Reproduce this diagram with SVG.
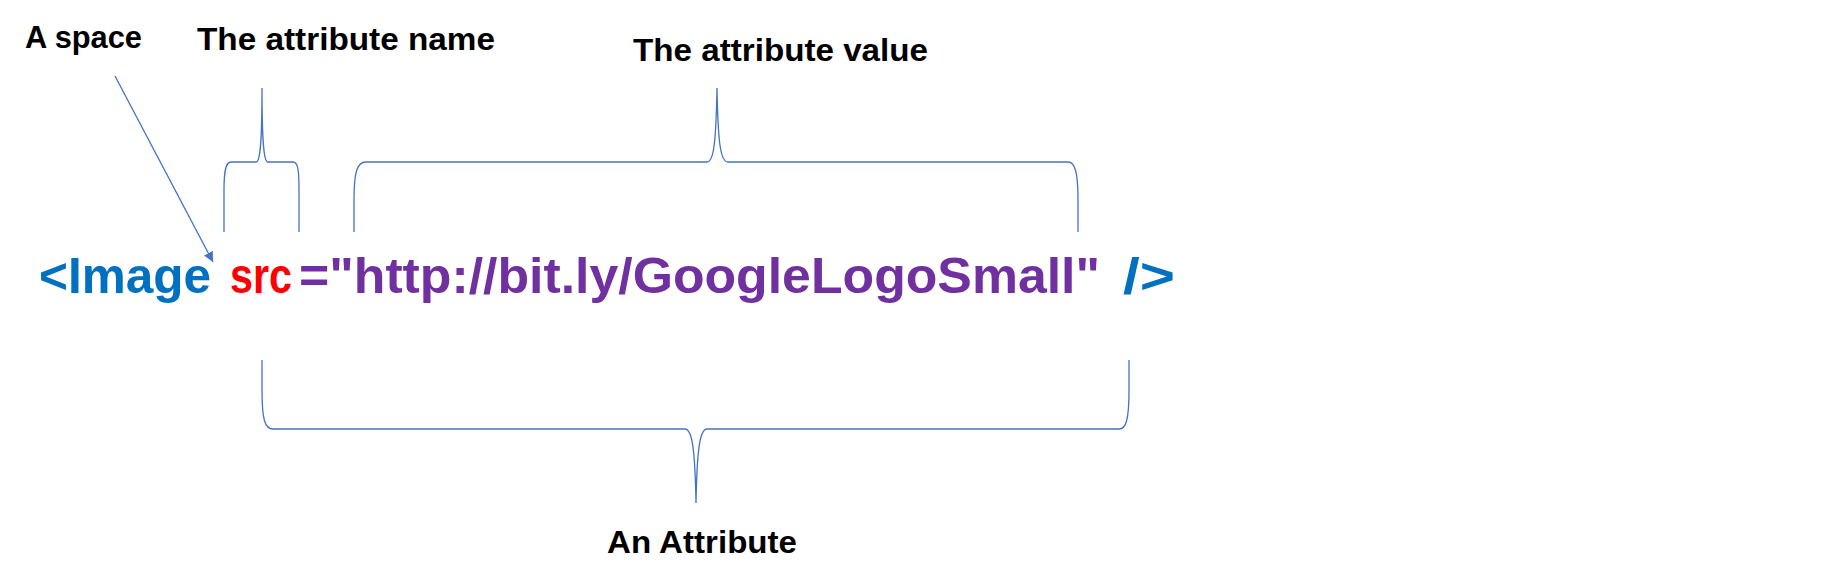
<svg xmlns="http://www.w3.org/2000/svg" width="1842" height="587" viewBox="0 0 1842 587">
<defs>
<style>
.lbl{font-family:"Liberation Sans",Arial,sans-serif;font-weight:bold;font-size:32px;fill:#000}
.code{font-family:"Liberation Sans",Arial,sans-serif;font-weight:bold;font-size:50px}
.brace{fill:none;stroke:#4472C4;stroke-width:1.3}
</style>
<marker id="ah" viewBox="0 0 10 10" refX="10" refY="5" markerWidth="10" markerHeight="10" markerUnits="userSpaceOnUse" orient="auto">
<path d="M0,0 L10,5 L0,10 Z" fill="#4472C4"/>
</marker>
</defs>
<rect width="1842" height="587" fill="#fff"/>
<g id="connectors">
<line x1="115" y1="76" x2="213" y2="262" stroke="#4472C4" stroke-width="1.3" marker-end="url(#ah)"/>
<path class="brace" d="M224,232 L224,190 C224,170 226,162 231,162 L256,162 C260,162 262,145 262,88 C262,145 264,162 268,162 L293,162 C298,162 299,170 299,190 L299,232"/>
<path class="brace" d="M354,232 L354,200 C354,172 357,162 366,162 L707,162 C714,162 716,140 717,88 C718,140 720,162 728,162 L1068,162 C1075,162 1078,172 1078,200 L1078,232"/>
<path class="brace" d="M262,360 L262,390 C262,420 265,429 273,429 L685,429 C692,429 695,448 696,503 C697,448 700,429 707,429 L1119,429 C1126,429 1129,420 1129,390 L1129,360"/>
</g>
<g id="space-label"><text class="lbl" x="25" y="48" textLength="117" lengthAdjust="spacingAndGlyphs">A space</text></g>
<g id="name-label"><text class="lbl" x="197" y="50" textLength="298" lengthAdjust="spacingAndGlyphs">The attribute name</text></g>
<g id="value-label"><text class="lbl" x="633" y="61" textLength="295" lengthAdjust="spacingAndGlyphs">The attribute value</text></g>
<g id="code">
<text class="code" x="39" y="293" fill="#0070C0" textLength="172" lengthAdjust="spacingAndGlyphs">&lt;Image</text>
<text class="code" x="230" y="293" fill="#FF0000" textLength="62" lengthAdjust="spacingAndGlyphs">src</text>
<text class="code" x="299" y="293" fill="#7030A0" textLength="801" lengthAdjust="spacingAndGlyphs">="http://bit.ly/GoogleLogoSmall"</text>
<text class="code" x="1123" y="293" fill="#0070C0" textLength="52" lengthAdjust="spacingAndGlyphs">/&gt;</text>
</g>
<g id="attribute-label"><text class="lbl" x="607" y="553" textLength="190" lengthAdjust="spacingAndGlyphs">An Attribute</text></g>
</svg>
